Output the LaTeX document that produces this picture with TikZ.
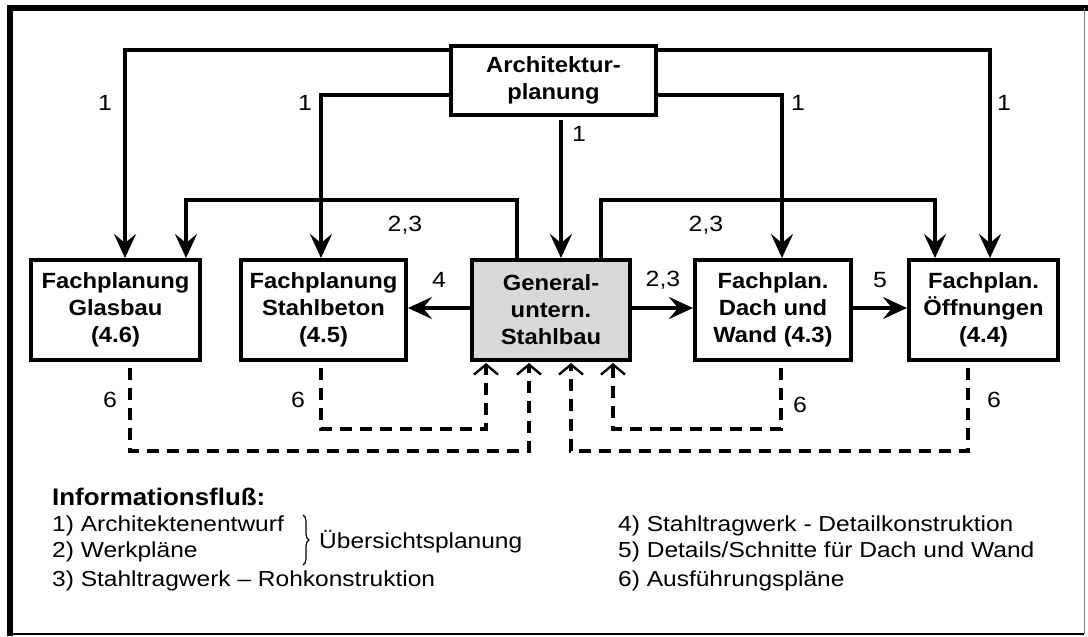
\documentclass[tikz,border=0pt]{standalone}
\usepackage{fontspec}
\setmainfont{Liberation Sans}[FakeStretch=1.13, BoldFeatures={FakeStretch=1.08}]
\usetikzlibrary{arrows.meta,decorations.pathreplacing}
\begin{document}
\begin{tikzpicture}[x=1pt,y=-1pt,
  box/.style={draw, line width=4pt, align=center, inner sep=0pt,
              font=\bfseries\fontsize{22}{27}\selectfont},
  arr/.style={line width=3.5pt, -{Stealth[length=24pt,width=22pt,inset=9pt]}},
  darr/.style={line width=3.5pt, dash pattern=on 12pt off 8pt,
               -{Straight Barb[length=10pt,width=24pt,line width=2.4pt]}},
  lbl/.style={font=\fontsize{22}{25}\selectfont, inner sep=0pt},
  leg/.style={font=\fontsize{21.7}{25}\selectfont, inner sep=0pt, anchor=west},
]
\useasboundingbox (0,0) rectangle (1088,637);

% outer frame
\draw[line width=5.5pt] (10,636) -- (10,8) -- (1088,8);
\draw[gray, line width=1pt] (1084,8) -- (1084,634);
\draw[line width=2pt] (10,634) -- (1084,634);

% planning units
\node[box, minimum width=205pt, minimum height=69pt] (arch) at (553.5,80) {Architektur-\\planung};
\node[box, minimum width=169pt, minimum height=100pt] (glas) at (115.5,310) {Fachplanung\\Glasbau\\(4.6)};
\node[box, minimum width=165pt, minimum height=100pt] (beton) at (323.5,310) {Fachplanung\\Stahlbeton\\(4.5)};
\node[box, fill=black!15, minimum width=158pt, minimum height=100pt] (gen) at (551,310) {General-\\untern.\\Stahlbau};
\node[box, minimum width=156pt, minimum height=100pt] (dach) at (773,310) {Fachplan.\\Dach und\\Wand (4.3)};
\node[box, minimum width=149pt, minimum height=100pt] (oeff) at (983.5,310) {Fachplan.\\Öffnungen\\(4.4)};

% arrow end points on the box tops
\coordinate (g1) at ([xshift=9.5pt]glas.north);
\coordinate (g2) at ([xshift=70.5pt]glas.north);
\coordinate (b1) at ([xshift=-2.5pt]beton.north);
\coordinate (d1) at ([xshift=9pt]dach.north);
\coordinate (o1) at ([xshift=-48.5pt]oeff.north);
\coordinate (o2) at ([xshift=6.5pt]oeff.north);
\coordinate (gt) at ([xshift=10pt]gen.north);
\coordinate (gl) at ([xshift=-34pt]gen.north);
\coordinate (gr) at ([xshift=50pt]gen.north);

% flow 1: architecture
\draw[arr] ([yshift=-6.5pt]arch.north west) -| (g1);
\draw[arr] ([yshift=-51.5pt]arch.north west) -| (b1);
\draw[arr, shorten <=3pt] (gt |- arch.south) -- (gt);
\draw[arr] ([yshift=-51.5pt]arch.north east) -| (d1);
\draw[arr] ([yshift=-6.5pt]arch.north east) -| (o2);

% flow 2,3 from the general contractor
\draw[arr] (gl) -- ++(0,-58) -| (g2);
\draw[arr] (gr) -- ++(0,-58) -| (o1);

% horizontal flows 4, 2,3 and 5
\draw[arr] ([yshift=2pt]gen.west) -- ([yshift=2pt]beton.east);
\draw[arr] ([yshift=2pt]gen.east) -- ([yshift=2pt]dach.west);
\draw[arr] ([yshift=2pt]dach.east) -- ([yshift=2pt]oeff.west);

% flow 6: execution drawings back to the general contractor
\coordinate (s1) at ([xshift=14.5pt]glas.south);
\coordinate (s2) at ([xshift=-2.5pt]beton.south);
\coordinate (s3) at ([xshift=8pt]dach.south);
\coordinate (s4) at ([xshift=-15.5pt]oeff.south);
\coordinate (e1) at ([xshift=-65pt,yshift=-1pt]gen.south);
\coordinate (e2) at ([xshift=-22pt,yshift=-1pt]gen.south);
\coordinate (e3) at ([xshift=20pt,yshift=-1pt]gen.south);
\coordinate (e4) at ([xshift=62pt,yshift=-1pt]gen.south);
\draw[darr, shorten <=6pt] (s1) -- ++(0,89) -| (e2);
\draw[darr, shorten <=6pt] (s2) -- ++(0,67) -| (e1);
\draw[darr, shorten <=6pt] (s3) -- ++(0,67) -| (e4);
\draw[darr, shorten <=6pt] (s4) -- ++(0,89) -| (e3);

% connector labels
\node[lbl] (n1a) at (105,103) {1};
\node[lbl] (n1b) at (305,103) {1};
\node[lbl] (n1c) at (579,134) {1};
\node[lbl] (n1d) at (798,103) {1};
\node[lbl] (n1e) at (1004,103) {1};
\node[lbl] (n23a) at (405,225) {2,3};
\node[lbl] (n23b) at (706,225) {2,3};
\node[lbl] (n4) at (439,280) {4};
\node[lbl] (n23c) at (663,280) {2,3};
\node[lbl] (n5) at (880,280) {5};
\node[lbl] (n6a) at (110,400) {6};
\node[lbl] (n6b) at (298,400) {6};
\node[lbl] (n6c) at (800,405) {6};
\node[lbl] (n6d) at (994,400) {6};

% legend
\node[leg, font=\bfseries\fontsize{24}{27}\selectfont] (lt) at (52,497) {Informationsfluß:};
\node[leg] (le1) at (52,526) {1) Architektenentwurf};
\node[leg] (le2) at (52,552) {2) Werkpläne};
\node[leg] (le3) at (52,581) {3) Stahltragwerk – Rohkonstruktion};
\draw[line width=1.2pt, decorate, decoration={brace, amplitude=6pt}] (303,515) -- (303,565);
\node[leg] (lu) at (319,542) {Übersichtsplanung};
\node[leg] (le4) at (618,526) {4) Stahltragwerk - Detailkonstruktion};
\node[leg] (le5) at (618,552) {5) Details/Schnitte für Dach und Wand};
\node[leg] (le6) at (618,581) {6) Ausführungspläne};
\end{tikzpicture}
\end{document}
